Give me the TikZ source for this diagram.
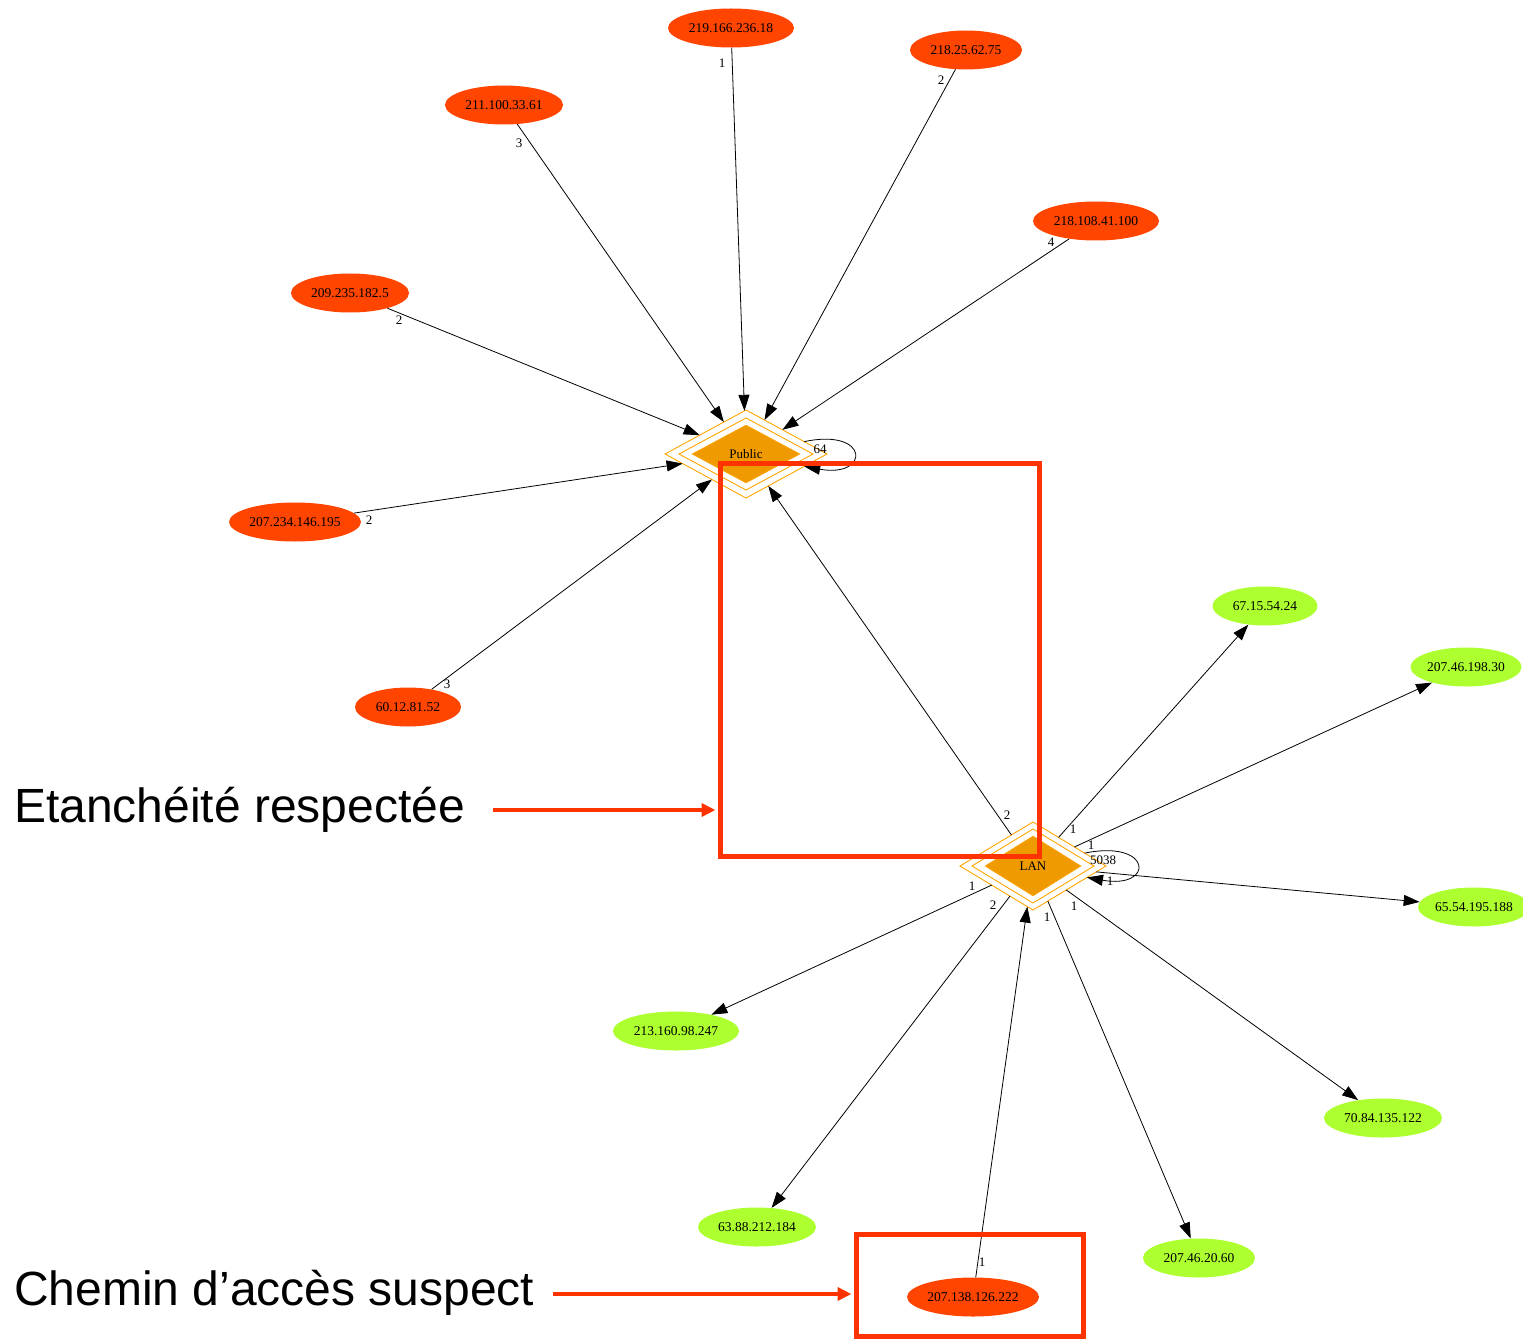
\documentclass[tikz,border=0pt]{standalone}
\usepackage{fontspec}
\setmainfont{Liberation Serif}
\newfontfamily\annotfont{Liberation Sans}
\usetikzlibrary{shapes.geometric,arrows.meta}
\definecolor{extred}{RGB}{255,69,0}
\definecolor{lanok}{RGB}{173,255,47}
\definecolor{zonefill}{RGB}{238,154,0}
\definecolor{zoneline}{RGB}{255,165,0}
\definecolor{markred}{RGB}{255,51,0}

\begin{document}
\begin{tikzpicture}[x=1pt,y=-1pt,
  host/.style={ellipse,inner sep=0pt,minimum height=39pt,font=\fontsize{13.5}{14}\selectfont},
  ext/.style={host,fill=extred},
  int/.style={host,fill=lanok},
  zone/.style={diamond,draw=zoneline,line width=0.9pt,inner sep=0pt,outer sep=0pt},
  zonecore/.style={diamond,fill=zonefill,draw=zoneline,line width=0.6pt,inner sep=0pt,
    font=\fontsize{13}{14}\selectfont},
  flow/.style={draw=black,line width=0.8pt,-{Triangle[length=16pt,width=11pt]}},
  cnt/.style={inner sep=0pt,font=\fontsize{13}{14}\selectfont},
  markbox/.style={draw=markred,line width=5pt,inner sep=0pt},
  pointer/.style={draw=markred,line width=4pt,-{Triangle[length=14pt,width=13pt]}},
  caption/.style={anchor=base west,inner sep=0pt,font=\annotfont\fontsize{48}{50}\selectfont},
]
\clip (0,0) rectangle (1523,1340);

% external hosts around the public zone
\node[ext,minimum width=126pt] (n1) at (731,28)  {219.166.236.18};
\node[ext,minimum width=112pt] (n2) at (966,50)  {218.25.62.75};
\node[ext,minimum width=118pt] (n3) at (504,105) {211.100.33.61};
\node[ext,minimum width=126pt] (n4) at (1096,221) {218.108.41.100};
\node[ext,minimum width=118pt] (n5) at (350,293) {209.235.182.5};
\node[ext,minimum width=132pt] (n6) at (295,522) {207.234.146.195};
\node[ext,minimum width=106pt] (n7) at (408,707) {60.12.81.52};

% public zone
\node[zone,minimum width=162pt,minimum height=88pt] (pub) at (746,454) {};
\node[zone,minimum width=134pt,minimum height=72pt] (pubring) at (pub) {};
\node[zonecore,minimum width=108pt,minimum height=58pt] (pubcore) at (pub) {Public};

% LAN zone
\node[zone,minimum width=146pt,minimum height=88pt] (lan) at (1033,866) {};
\node[zone,minimum width=122pt,minimum height=74pt] (lanring) at (lan) {};
\node[zonecore,minimum width=96pt,minimum height=60pt] (lancore) at (lan) {LAN};

% destinations reached from the LAN
\node[int,minimum width=105pt] (g1) at (1265,606)  {67.15.54.24};
\node[int,minimum width=111pt] (g2) at (1466,667)  {207.46.198.30};
\node[int,minimum width=112pt] (g3) at (1474,907)  {65.54.195.188};
\node[int,minimum width=126pt] (g4) at (676,1031)  {213.160.98.247};
\node[int,minimum width=118pt] (g5) at (1383,1118) {70.84.135.122};
\node[int,minimum width=118pt] (g6) at (757,1227)  {63.88.212.184};
\node[int,minimum width=112pt] (g7) at (1199,1258) {207.46.20.60};
\node[ext,minimum width=132pt] (s1) at (973,1297)  {207.138.126.222};

% flows into the public zone
\draw[flow] (n1) -- (pub);
\draw[flow] (n2) -- (pub);
\draw[flow] (n3) -- (pub);
\draw[flow] (n4) -- (pub);
\draw[flow] (n5) -- (pub);
\draw[flow] (n6) -- (pub);
\draw[flow] (n7) -- (pub);
\draw[flow] (pub.12) .. controls +(66,-14) and +(66,12) .. (pub.-12);
\draw[flow] (lan) -- (pub);

% flows out of the LAN
\draw[flow] (lan) -- (g1);
\draw[flow] (lan) -- (g2);
\draw[flow] (lan) -- (g3);
\draw[flow] (lan) -- (g4);
\draw[flow] (lan) -- (g5);
\draw[flow] (lan) -- (g6);
\draw[flow] (lan) -- (g7);
\draw[flow] (lan.14) .. controls +(68,-14) and +(68,12) .. (lan.-12);
\draw[flow] (s1) -- (lan);

% connection counts
\node[cnt] (c1)  at (722,63)   {1};
\node[cnt] (c2)  at (941,80)   {2};
\node[cnt] (c3)  at (519,143)  {3};
\node[cnt] (c4)  at (1051,242) {4};
\node[cnt] (c5)  at (399,320)  {2};
\node[cnt] (c6)  at (369,520)  {2};
\node[cnt] (c7)  at (447,684)  {3};
\node[cnt] (c8)  at (820,449)  {64};
\node[cnt] (c9)  at (1007,815) {2};
\node[cnt] (c10) at (1073,829) {1};
\node[cnt] (c11) at (1091,845) {1};
\node[cnt] (c12) at (1103,860) {5038};
\node[cnt] (c13) at (1110,881) {1};
\node[cnt] (c14) at (972,886)  {1};
\node[cnt] (c15) at (993,905)  {2};
\node[cnt] (c16) at (1047,917) {1};
\node[cnt] (c17) at (1074,906) {1};
\node[cnt] (c18) at (982,1262) {1};

% highlights
\node[markbox,minimum width=319pt,minimum height=393pt] (box1) at (879.5,659.5) {};
\node[markbox,minimum width=227pt,minimum height=102pt] (box2) at (969.5,1285) {};

\node[caption] (t1) at (14,822)  {Etanchéité respectée};
\node[caption] (t2) at (14,1305) {Chemin d’accès suspect};

\coordinate (p1) at (493,810);
\coordinate (p2) at (553,1294);
\draw[pointer] (p1) -- ([xshift=-2pt]p1 -| box1.west);
\draw[pointer] (p2) -- ([xshift=-2pt]p2 -| box2.west);
\end{tikzpicture}
\end{document}
